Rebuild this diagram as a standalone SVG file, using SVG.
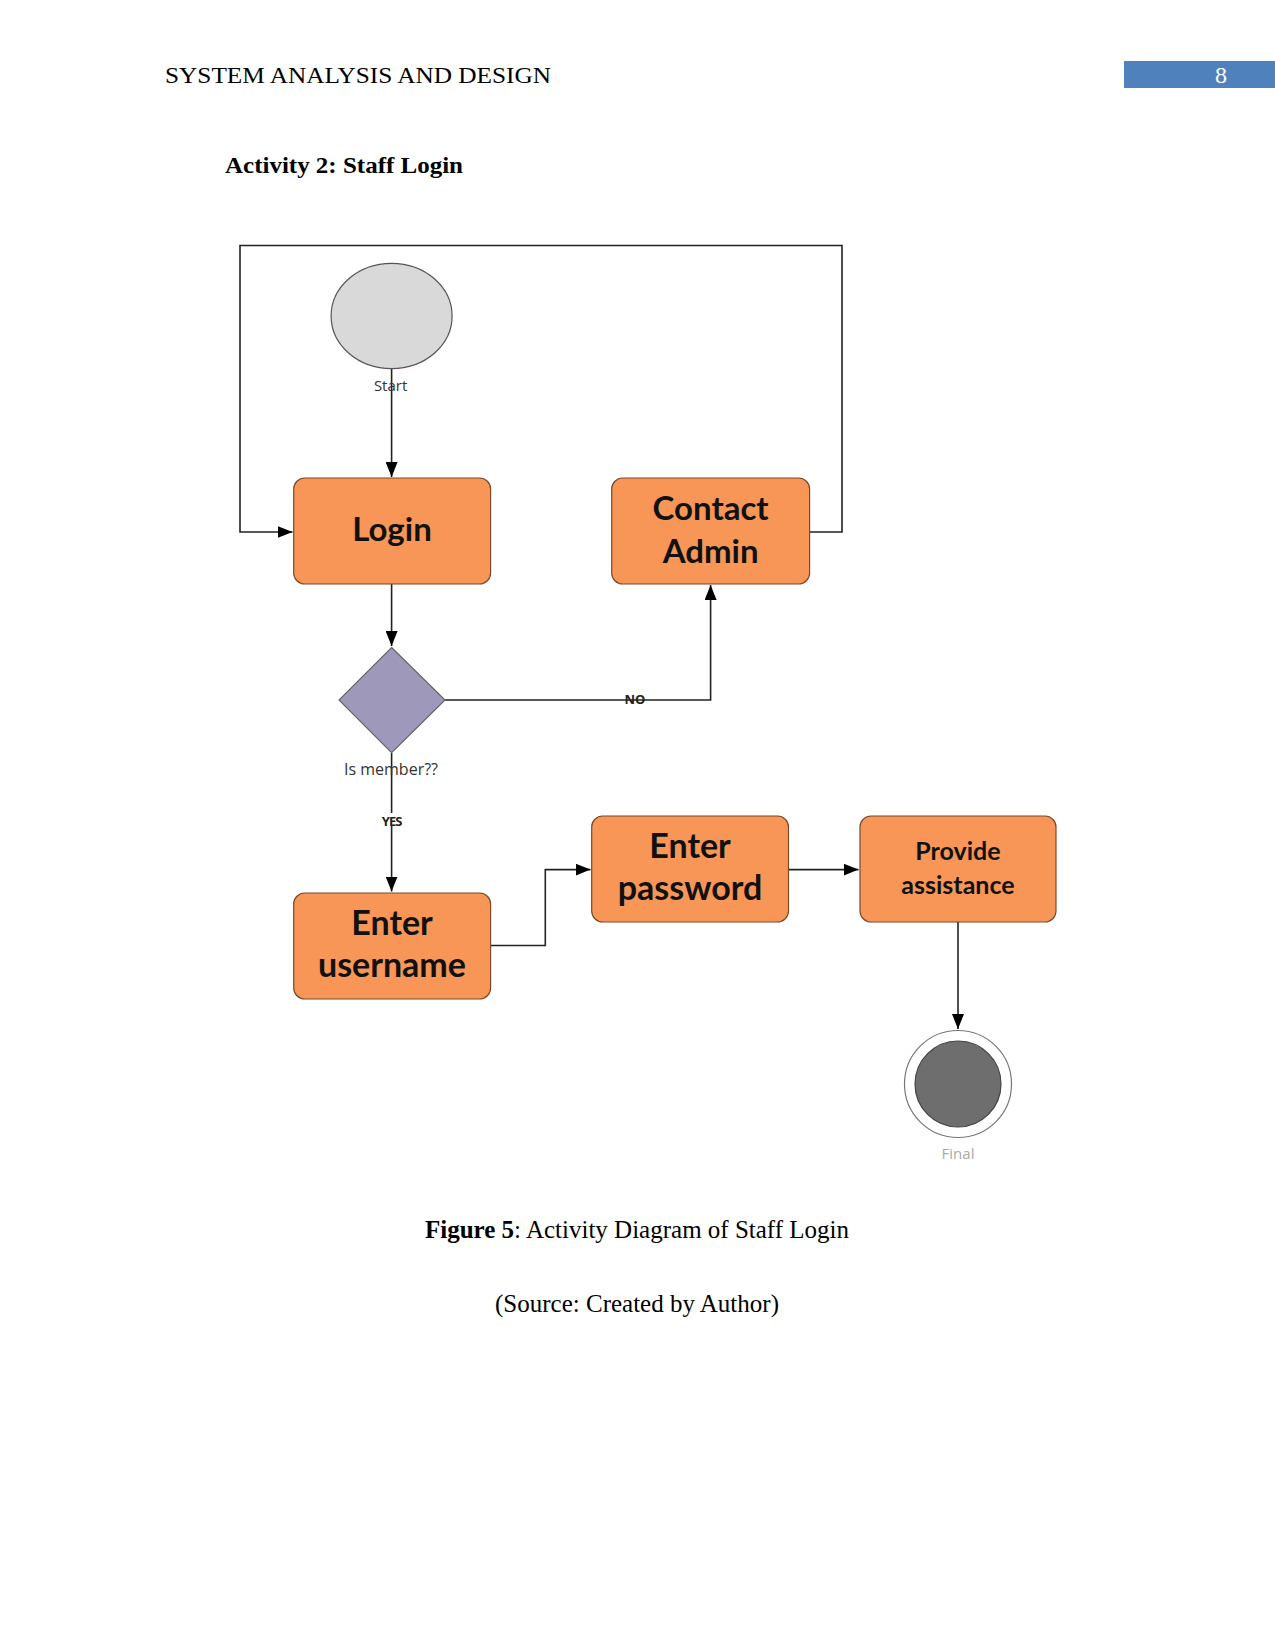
<svg xmlns="http://www.w3.org/2000/svg" width="1275" height="1651" viewBox="0 0 1275 1651">
<defs>
<style>
.hdr{font-family:"Liberation Serif",serif;font-size:24px;fill:#000}
.box{fill:#f79656;stroke:#7a4a2a;stroke-width:1.2}
.bt{font-family:Lato,"Open Sans",sans-serif;font-weight:bold;fill:#111;text-anchor:middle}
.lbl{font-family:"Open Sans","Noto Sans",sans-serif;fill:#333;text-anchor:middle}
.edge{fill:none;stroke:#222;stroke-width:1.6}
.cap{font-family:"Liberation Serif",serif;font-size:25px;text-anchor:middle;fill:#000}
</style>
<marker id="arr" viewBox="0 0 15 12" refX="15" refY="6" markerWidth="15" markerHeight="12" markerUnits="userSpaceOnUse" orient="auto">
<path d="M0,0 L15,6 L0,12 z" fill="#000"/>
</marker>
</defs>
<rect width="1275" height="1651" fill="#fff"/>

<g id="header">
<text class="hdr" x="165" y="83" textLength="386" lengthAdjust="spacingAndGlyphs">SYSTEM ANALYSIS AND DESIGN</text>
<rect x="1124" y="61" width="151" height="27" fill="#4f81bd"/>
<text x="1221" y="83" font-family="Liberation Serif,serif" font-size="24" fill="#fff" text-anchor="middle">8</text>
<text x="225" y="173" font-family="Liberation Serif,serif" font-size="24" font-weight="bold" textLength="238" lengthAdjust="spacingAndGlyphs">Activity 2: Staff Login</text>
</g>

<g id="connectors">
<path class="edge" d="M391.6,368 V477" marker-end="url(#arr)"/>
<path class="edge" d="M391.6,584 V646" marker-end="url(#arr)"/>
<path class="edge" d="M445,700 H710.6 V585" marker-end="url(#arr)"/>
<path class="edge" d="M809.6,532 H842 V245.5 H240 V532 H292.5" marker-end="url(#arr)"/>
<path class="edge" d="M391.6,753 V891.5" marker-end="url(#arr)"/>
<path class="edge" d="M490.6,945.5 H545.3 V869.6 H590.5" marker-end="url(#arr)"/>
<path class="edge" d="M788.5,869.6 H858.5" marker-end="url(#arr)"/>
<path class="edge" d="M958,922 V1029" marker-end="url(#arr)"/>
<text x="635" y="704" font-family="Open Sans,sans-serif" font-size="13" font-weight="bold" fill="#222" text-anchor="middle">NO</text>
<rect x="381" y="813" width="21" height="13" fill="#fff"/>
<text x="391.6" y="826" font-family="Open Sans,sans-serif" font-size="13" font-weight="bold" fill="#222" text-anchor="middle" letter-spacing="-1">YES</text>
</g>

<g id="start">
<ellipse cx="391.6" cy="316" rx="60.5" ry="52.6" fill="#d9d9d9" stroke="#555" stroke-width="1.2"/>
<text class="lbl" x="390.6" y="391" font-size="15">Start</text>
</g>

<g id="login">
<rect class="box" x="293.7" y="478" width="196.9" height="106" rx="11"/>
<text class="bt" x="392" y="541" font-size="33">Login</text>
</g>

<g id="contact-admin">
<rect class="box" x="611.7" y="478" width="197.9" height="106" rx="11"/>
<text class="bt" x="710.6" y="520" font-size="33">Contact</text>
<text class="bt" x="710.6" y="563" font-size="33">Admin</text>
</g>

<g id="is-member">
<polygon points="391.6,647.5 445,700 391.6,752.7 339,700" fill="#9e98bb" stroke="#666" stroke-width="1.2"/>
<text class="lbl" x="391" y="775" font-size="16">Is member??</text>
</g>

<g id="enter-username">
<rect class="box" x="293.7" y="893" width="196.9" height="106" rx="11"/>
<text class="bt" x="392" y="935" font-size="34">Enter</text>
<text class="bt" x="392" y="977" font-size="34">username</text>
</g>

<g id="enter-password">
<rect class="box" x="591.7" y="816" width="196.8" height="106" rx="11"/>
<text class="bt" x="690" y="858" font-size="34">Enter</text>
<text class="bt" x="690" y="900" font-size="34">password</text>
</g>

<g id="provide-assistance">
<rect class="box" x="860" y="816" width="196" height="106" rx="11"/>
<text class="bt" x="958" y="860" font-size="25">Provide</text>
<text class="bt" x="958" y="894" font-size="25">assistance</text>
</g>

<g id="final">
<circle cx="958" cy="1084" r="53.5" fill="#fff" stroke="#777" stroke-width="1.2"/>
<circle cx="958" cy="1084" r="43" fill="#6e6e6e" stroke="#444" stroke-width="1.2"/>
<text x="958" y="1159" font-family="Open Sans,sans-serif" font-size="15" fill="#aaa" text-anchor="middle">Final</text>
</g>

<g id="caption">
<text class="cap" x="637" y="1238"><tspan font-weight="bold">Figure 5</tspan>: Activity Diagram of Staff Login</text>
<text class="cap" x="637" y="1312">(Source: Created by Author)</text>
</g>
</svg>
